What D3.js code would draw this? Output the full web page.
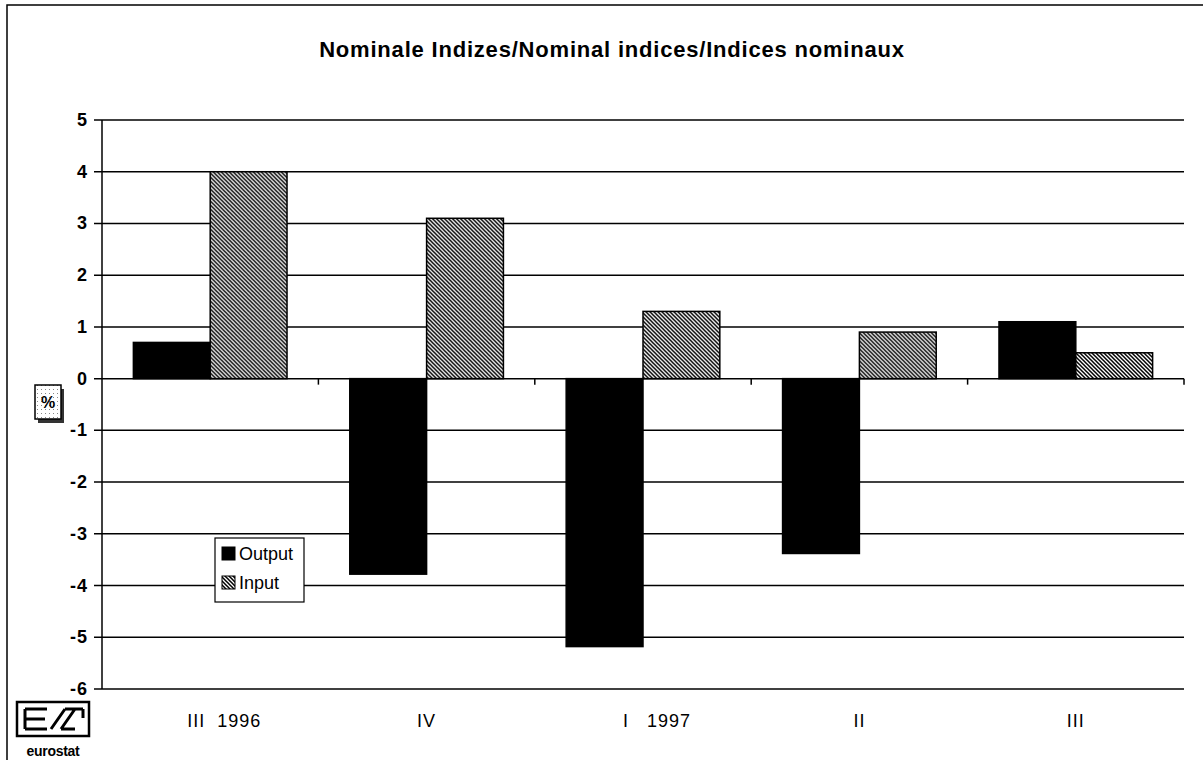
<!DOCTYPE html>
<html>
<head>
<meta charset="utf-8">
<script src="https://cdn.jsdelivr.net/npm/d3@7"></script>
<style>
  body { margin: 0; background: #fff; }
  svg { display: block; font-family: "Liberation Sans", Arial, sans-serif; }
</style>
</head>
<body>
<div id="chart"></div>
<script>
const categories = ["III  1996", "IV", "I   1997", "II", "III"];
const outputValues = [0.7, -3.78, -5.18, -3.38, 1.1];
const inputValues = [4.0, 3.1, 1.3, 0.9, 0.5];
const seriesNames = ["Output", "Input"];
const yTicks = [5, 4, 3, 2, 1, 0, -1, -2, -3, -4, -5, -6];

const width = 1203, height = 760;
const plot = { left: 102, right: 1184, top: 120, bottom: 689 };

const svg = d3.select("#chart").append("svg")
    .attr("width", width)
    .attr("height", height);

// hatch pattern for Input
const defs = svg.append("defs");
const pat = defs.append("pattern")
    .attr("id", "hatch")
    .attr("patternUnits", "userSpaceOnUse")
    .attr("width", 4).attr("height", 4);
pat.append("rect").attr("width", 4).attr("height", 4).attr("fill", "#fff");
pat.append("path")
    .attr("d", "M-1,-1 L5,5 M-1,3 L1,5 M3,-1 L5,1")
    .attr("stroke", "#000").attr("stroke-width", 1.5);

const dots = defs.append("pattern")
    .attr("id", "dots")
    .attr("patternUnits", "userSpaceOnUse")
    .attr("width", 4).attr("height", 4);
dots.append("rect").attr("width", 4).attr("height", 4).attr("fill", "#fff");
dots.append("rect").attr("x", 1).attr("y", 1).attr("width", 1).attr("height", 1).attr("fill", "#888");

// outer frame (right side runs off the page)
svg.append("rect")
    .attr("x", 7).attr("y", 5)
    .attr("width", 1210).attr("height", 770)
    .attr("fill", "none").attr("stroke", "#000").attr("stroke-width", 1.5);

// title
svg.append("text")
    .attr("x", 612).attr("y", 57)
    .attr("text-anchor", "middle")
    .attr("font-size", 22).attr("font-weight", "bold")
    .attr("letter-spacing", 0.8)
    .text("Nominale Indizes/Nominal indices/Indices nominaux");

const y = d3.scaleLinear().domain([-6, 5]).range([plot.bottom, plot.top]);
const x0 = d3.scaleBand().domain(categories).range([plot.left, plot.right]).paddingInner(0.29).paddingOuter(0.145);
const x1 = d3.scaleBand().domain(seriesNames).range([0, x0.bandwidth()]);

// gridlines
svg.append("g").selectAll("line")
    .data(yTicks)
    .enter().append("line")
    .attr("x1", plot.left - 8).attr("x2", plot.right)
    .attr("y1", d => y(d)).attr("y2", d => y(d))
    .attr("stroke", "#000").attr("stroke-width", 1.5);

// y labels
svg.append("g").selectAll("text")
    .data(yTicks)
    .enter().append("text")
    .attr("x", 88).attr("y", d => y(d) + 6)
    .attr("text-anchor", "end")
    .attr("font-size", 18).attr("font-weight", "bold")
    .attr("letter-spacing", 1)
    .text(d => d);

// y axis line
svg.append("line")
    .attr("x1", plot.left).attr("x2", plot.left)
    .attr("y1", plot.top).attr("y2", plot.bottom)
    .attr("stroke", "#000").attr("stroke-width", 1.5);

// category tick marks on zero line
const step = (plot.right - plot.left) / categories.length;
svg.append("g").selectAll("line")
    .data(d3.range(1, categories.length + 1))
    .enter().append("line")
    .attr("x1", d => plot.left + d * step).attr("x2", d => plot.left + d * step)
    .attr("y1", y(0)).attr("y2", y(0) + 6)
    .attr("stroke", "#000").attr("stroke-width", 1.5);

// bars
const rows = categories.map((c, i) => ({ cat: c, values: [
    { name: "Output", v: outputValues[i] },
    { name: "Input", v: inputValues[i] }
]}));

const groups = svg.append("g").selectAll("g")
    .data(rows)
    .enter().append("g")
    .attr("transform", d => `translate(${x0(d.cat)},0)`);

groups.selectAll("rect")
    .data(d => d.values)
    .enter().append("rect")
    .attr("x", d => x1(d.name))
    .attr("width", x1.bandwidth())
    .attr("y", d => y(Math.max(0, d.v)))
    .attr("height", d => Math.abs(y(d.v) - y(0)))
    .attr("fill", d => d.name === "Output" ? "#000" : "url(#hatch)")
    .attr("stroke", "#000").attr("stroke-width", 1.5);

// x labels
svg.append("g").selectAll("text")
    .data(categories)
    .enter().append("text")
    .attr("x", d => x0(d) + x0.bandwidth() / 2)
    .attr("dx", d => d.includes(" ") ? 14 : 0)
    .attr("y", 727)
    .attr("text-anchor", "middle")
    .attr("font-size", 18)
    .attr("letter-spacing", 1)
    .style("white-space", "pre")
    .text(d => d);

// legend
const lg = svg.append("g").attr("transform", "translate(215,538)");
lg.append("rect").attr("width", 89).attr("height", 64)
    .attr("fill", "#fff").attr("stroke", "#000").attr("stroke-width", 1.2);
seriesNames.forEach((n, i) => {
  lg.append("rect")
    .attr("x", 7).attr("y", 9 + i * 29)
    .attr("width", 13).attr("height", 13)
    .attr("fill", n === "Output" ? "#000" : "url(#hatch)")
    .attr("stroke", "#000");
  lg.append("text")
    .attr("x", 24).attr("y", 22 + i * 29)
    .attr("font-size", 18)
    .text(n);
});

// % box
svg.append("rect").attr("x", 38).attr("y", 389).attr("width", 26).attr("height", 34).attr("fill", "#333");
svg.append("rect").attr("x", 35).attr("y", 385).attr("width", 26).attr("height", 34)
    .attr("fill", "url(#dots)").attr("stroke", "#000").attr("stroke-width", 1.5);
svg.append("text").attr("x", 48).attr("y", 408)
    .attr("text-anchor", "middle").attr("font-size", 16).attr("font-weight", "bold").text("%");

// eurostat logo
const logo = svg.append("g").attr("transform", "translate(17,702)");
logo.append("rect").attr("width", 72).attr("height", 34)
    .attr("fill", "none").attr("stroke", "#000").attr("stroke-width", 2.5);
logo.append("path")
    .attr("d", "M8,7 H30 M8,17 H28 M8,27 H30 M8,7 V27 M34,27 L48,7 M44,27 L58,7 M48,7 H66 M44,27 H58 M66,7 V16")
    .attr("fill", "none").attr("stroke", "#000").attr("stroke-width", 3);
logo.append("text").attr("x", 36).attr("y", 54)
    .attr("text-anchor", "middle").attr("font-size", 14).attr("font-weight", "bold")
    .attr("letter-spacing", -0.3)
    .text("eurostat");
</script>
</body>
</html>
